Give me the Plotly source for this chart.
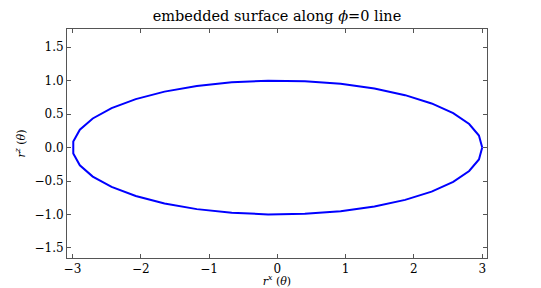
import plotly.graph_objects as go

# points (phi = 0 line)
r_x = [3.0, 2.952, 2.809, 2.575, 2.259, 1.871, 1.422, 0.927, 0.403, -0.135, -0.668, -1.179,
       -1.652, -2.073, -2.427, -2.703, -2.892, -2.988, -2.988, -2.892, -2.703, -2.427, -2.073,
       -1.652, -1.179, -0.668, -0.135, 0.403, 0.927, 1.422, 1.871, 2.259, 2.575, 2.809, 2.952, 3.0]
r_z = [0.0, 0.179, 0.351, 0.513, 0.658, 0.782, 0.881, 0.951, 0.991, 0.999, 0.975, 0.920,
       0.835, 0.723, 0.588, 0.434, 0.266, 0.090, -0.090, -0.266, -0.434, -0.588, -0.723,
       -0.835, -0.920, -0.975, -0.999, -0.991, -0.951, -0.881, -0.782, -0.658, -0.513, -0.351,
       -0.179, 0.0]

x_ticks = [-3, -2, -1, 0, 1, 2, 3]
y_ticks = [-1.5, -1.0, -0.5, 0.0, 0.5, 1.0, 1.5]

font_fam = "DejaVu Serif"

fig = go.Figure()
fig.add_trace(go.Scatter(x=r_x, y=r_z, mode="lines",
                         line=dict(color="#0000ff", width=2), showlegend=False))

axis_common = dict(showline=True, linecolor="#555555", linewidth=1, mirror="allticks",
                   ticks="inside", ticklen=4, tickcolor="#555555", showgrid=False,
                   zeroline=False, automargin=False,
                   tickfont=dict(family=font_fam, size=12, color="black"))

fig.update_layout(
    width=541, height=288,
    margin=dict(l=67, r=54, t=29, b=30),
    paper_bgcolor="white", plot_bgcolor="white",
    title=dict(text="embedded surface along <i>ϕ</i>=0 line", x=0.5, xref="paper",
               y=1 - 16 / 288, yref="container", yanchor="middle", xanchor="center",
               font=dict(family=font_fam, size=14.5, color="black")),
    xaxis=dict(range=[-3.08, 3.07], tickvals=x_ticks,
               ticktext=[("\u2212" + str(-v)) if v < 0 else str(v) for v in x_ticks],
               title=dict(text="<i>r</i><sup><i>x</i></sup> (<i>θ</i>)", standoff=3,
                          font=dict(family=font_fam, size=11, color="black")),
               **axis_common),
    yaxis=dict(range=[-1.65, 1.77], tickvals=y_ticks,
               ticktext=[("\u2212%.1f" % -v) if v < 0 else "%.1f" % v for v in y_ticks],
               title=dict(text="<i>r</i><sup><i>z</i></sup> (<i>θ</i>)", standoff=6,
                          font=dict(family=font_fam, size=11, color="black")),
               **axis_common),
)

fig.write_html("out.html", config={"displayModeBar": False},
               post_script="document.body.style.margin='0px';document.body.style.overflow='hidden';")
